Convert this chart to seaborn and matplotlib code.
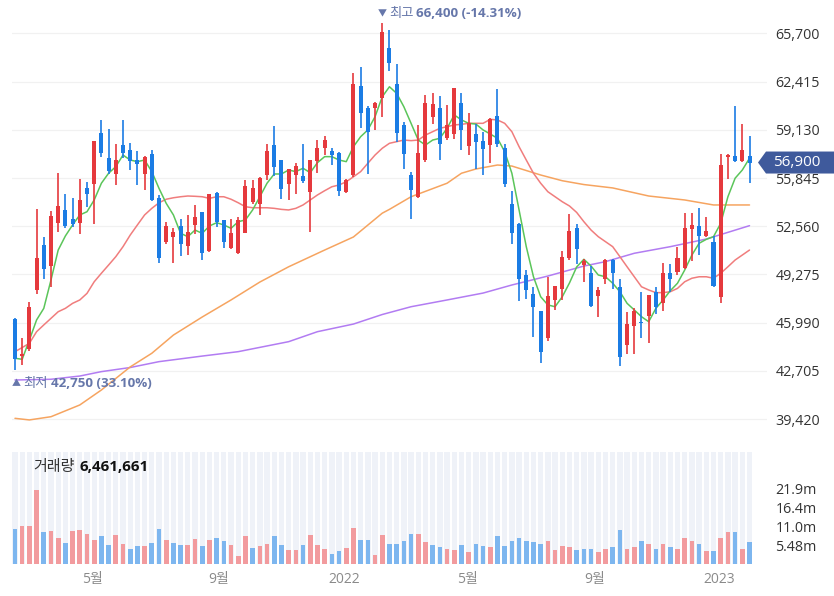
import numpy as np
import pandas as pd
import matplotlib
matplotlib.use("Agg")
import matplotlib.pyplot as plt
import matplotlib.dates as mdates
from matplotlib.patches import Polygon
from matplotlib.transforms import IdentityTransform
from matplotlib.offsetbox import TextArea, HPacker, AnnotationBbox
import seaborn as sns

# weekly candles, Feb 2021 .. Feb 2023
start_week = "2021-02-15"
n_weeks = 103

open_ = [46230, 43710, 44170, 48200, 51270, 49840, 52790, 53700, 53040, 52810,
         55170, 55470, 58940, 57240, 56100, 58080, 57730, 57050, 56150, 57460,
         54490, 51490, 51830, 52580, 51220, 52630, 53530, 50880, 54830, 52970,
         51110, 50770, 52130, 54220, 54060, 56030, 58080, 57050, 55420, 56030,
         55970, 54900, 57010, 57890, 57670, 57580, 54860, 56030, 62090, 60640,
         60640, 61320, 64700, 62230, 59440, 56030, 54560, 57100, 60000, 60640,
         58600, 58870, 60980, 58010, 58820, 58370, 58080, 60050, 57920, 54060,
         52680, 49230, 47930, 46770, 44980, 47570, 48320, 50430, 52450, 49910,
         49380, 47800, 49000, 50250, 48430, 44460, 45750, 46050, 46430, 48090,
         47300, 49380, 49450, 49750, 52400, 52560, 51880, 51490, 47750, 57280,
         57330, 57010, 57330]
high = [46300, 44980, 47390, 53740, 51830, 53580, 56190, 54790, 54490, 55780,
        55580, 58350, 59780, 59160, 58190, 59780, 58260, 57690, 57350, 57780,
        54670, 52850, 52470, 53080, 53310, 53990, 53530, 54790, 54900, 53000,
        53080, 53200, 55740, 55740, 55900, 58190, 59390, 57050, 56490, 56870,
        58190, 57050, 58420, 58690, 57920, 57600, 55810, 63030, 63410, 60730,
        61020, 66400, 65900, 63590, 59660, 56260, 59480, 61480, 61660, 61410,
        60800, 62000, 61660, 60300, 59550, 58980, 59960, 61890, 58190, 54960,
        52790, 49570, 48390, 46770, 49110, 48500, 50880, 53380, 52680, 50360,
        49840, 48430, 50360, 50360, 49000, 46730, 46960, 48090, 47860, 48430,
        50060, 50020, 51150, 53470, 53430, 53770, 53200, 51880, 57510, 57510,
        60730, 59510, 58690]
low = [42750, 43100, 44070, 47930, 49000, 48450, 52170, 52470, 52510, 52020,
       53880, 52700, 57280, 56100, 55400, 57240, 56370, 55400, 55010, 54280,
       50060, 51340, 50090, 50520, 50590, 52060, 50250, 50810, 52500, 51080,
       51040, 50700, 52100, 54060, 53310, 55690, 55970, 54450, 54330, 54740,
       55510, 52170, 56190, 57390, 56710, 54620, 54800, 55920, 59280, 56100,
       59100, 60000, 63130, 58300, 56490, 53080, 54500, 56920, 59550, 57100,
       58420, 58530, 57730, 57390, 56440, 56030, 56900, 57960, 55200, 51320,
       47480, 47640, 45020, 43280, 44750, 46890, 47570, 50290, 50020, 48770,
       47030, 46390, 48610, 48320, 43030, 43890, 43890, 44920, 44620, 46570,
       46790, 48090, 49230, 49680, 50200, 50590, 51860, 48430, 47300, 55810,
       56940, 56940, 55510]
close = [43550, 43850, 47030, 50430, 49680, 53240, 53920, 52560, 52740, 54330,
         54740, 58350, 57580, 56310, 57050, 57550, 57010, 56830, 57280, 54380,
         50430, 52560, 52170, 51340, 52170, 53200, 50770, 54740, 52850, 51490,
         52130, 53020, 55280, 55170, 55880, 57670, 56600, 55080, 56440, 56670,
         55650, 57050, 57920, 58420, 57390, 54960, 55740, 62230, 60300, 58980,
         60960, 65790, 63710, 58940, 57510, 55010, 57550, 60960, 60910, 58190,
         59440, 62000, 59100, 59620, 58300, 57850, 59890, 58140, 55420, 52100,
         48950, 48200, 47030, 44000, 47800, 48480, 50470, 52220, 51040, 50200,
         47110, 48200, 50250, 49380, 43660, 45890, 46770, 45940, 47860, 47070,
         49380, 49000, 50400, 52450, 52630, 51880, 52220, 48480, 56710, 57440,
         57010, 57730, 56900]
volume_m = [10.3, 11.0, 11.0, 21.7, 9.2, 9.5, 7.7, 6.2, 9.5, 9.8,
            8.9, 6.9, 8.1, 5.5, 8.4, 5.8, 4.4, 5.2, 5.2, 6.2,
            10.3, 6.9, 6.2, 5.5, 5.5, 7.3, 5.2, 6.9, 7.7, 6.6,
            5.5, 2.2, 8.1, 4.8, 5.2, 5.8, 8.1, 5.5, 4.0, 4.0,
            5.5, 8.5, 5.5, 4.4, 2.9, 3.7, 4.8, 10.6, 6.9, 6.9,
            2.6, 8.6, 5.9, 5.9, 6.6, 8.9, 8.9, 6.3, 5.5, 4.9,
            4.4, 4.1, 5.5, 3.4, 5.9, 5.2, 4.9, 8.2, 5.2, 6.6,
            7.7, 6.6, 6.3, 5.8, 6.6, 4.1, 5.2, 4.9, 4.1, 4.4,
            4.4, 3.4, 4.4, 4.9, 9.8, 4.4, 4.9, 6.6, 5.9, 4.4,
            5.8, 4.9, 4.4, 7.7, 6.6, 5.8, 3.7, 3.7, 7.7, 9.2,
            9.2, 4.4, 6.461661]
last_volume = 6461661

# moving averages
ma5 = [43570, 43500, 44810, 46180, 46970, 48900, 50940, 51900, 52650, 53330,
       53550, 54350, 55490, 56170, 56620, 57410, 57070, 56960, 57070, 56280,
       55140, 54120, 53330, 52080, 51850, 52300, 52080, 52580, 52800, 52650,
       52420, 52870, 52990, 53670, 54570, 55490, 56120, 56120, 56390, 56280,
       56510, 56210, 56890, 57300, 57300, 57070, 56960, 57980, 58660, 59120,
       60020, 61380, 62060, 61610, 60700, 59570, 58430, 58090, 58430, 58550,
       59230, 60140, 59800, 59570, 59520, 59120, 58840, 58550, 57640, 56170,
       53670, 51170, 49120, 47760, 47200, 47080, 47760, 48700, 49790, 50310,
       49850, 49240, 49120, 48680, 48100, 47310, 46860, 46400, 46060, 46970,
       47540, 48170, 48680, 49580, 50600, 51400, 51670, 51850, 52760, 54570,
       55830, 56390, 57190]
ma20 = [44020, 44300, 44590, 45380, 45840, 46290, 46740, 46970, 47310, 47540,
        47990, 48780, 49360, 49920, 50490, 51170, 51960, 52650, 53330, 53780,
        54160, 54400, 54500, 54570, 54620, 54600, 54570, 54460, 54570, 54570,
        54400, 54160, 53890, 53820, 53820, 53820, 53780, 53710, 53670, 53780,
        54010, 54350, 54690, 54980, 55250, 55370, 55590, 55930, 56280, 56850,
        57410, 57870, 58210, 58320, 58430, 58390, 58430, 58770, 59000, 59230,
        59340, 59460, 59500, 59570, 59570, 59570, 59840, 59800, 59570, 59000,
        57980, 57070, 56170, 55490, 54910, 54570, 54230, 53940, 53500, 52870,
        52300, 51850, 51510, 51170, 50490, 49800, 49120, 48440, 48220, 48040,
        48040, 48100, 48330, 48780, 49020, 49120, 49120, 49020, 49360, 49800,
        50260, 50600, 50940]
ma60_week = [0, 2, 5, 9, 12, 16, 19, 22, 26, 30, 34, 38, 43, 47, 51, 52, 55,
             60, 62, 64, 67, 69, 73, 76, 79, 83, 88, 93, 97, 102]
ma60 = [39480, 39370, 39590, 40390, 41410, 42980, 43910, 45150, 46380, 47540,
        48760, 49800, 50940, 51830, 53450, 53710, 54570, 55490, 56170, 56460,
        56730, 56660, 56050, 55660, 55400, 55170, 54620, 54350, 54010, 54010]
ma120_week = [0, 5, 9, 12, 16, 20, 26, 31, 38, 42, 47, 51, 55, 60, 65, 69,
              74, 79, 82, 86, 91, 96, 102]
ma120 = [42090, 42140, 42360, 42660, 42940, 43340, 43720, 44020, 44700, 45380,
         45900, 46550, 47080, 47540, 48010, 48560, 49170, 49850, 50150, 50720,
         51170, 51690, 52600]

price_ticks = [39420, 42705, 45990, 49275, 52560, 55845, 59130, 62415, 65700]
vol_ticks = [5.48, 11.0, 16.4, 21.9]
vol_tick_labels = ["5.48m", "11.0m", "16.4m", "21.9m"]
month_ticks = ["2021-05-01", "2021-09-01", "2022-01-01",
               "2022-05-01", "2022-09-01", "2023-01-01"]
month_labels = ["5월", "9월", "2022", "5월", "9월", "2023"]

RED, BLUE = "#e5393d", "#1b7ce4"
VRED, VBLUE = "#f29b9e", "#7db6ef"
MA_COLORS = {"ma5": "#5bc55a", "ma20": "#f07d7d", "ma60": "#f6a460", "ma120": "#b27cf2"}
LABEL_BLUE = "#6677aa"

sns.set_theme(style="white")
plt.rcParams["font.family"] = ["Open Sans", "Noto Sans CJK KR", "DejaVu Sans"]

df = pd.DataFrame({"date": pd.date_range(start_week, periods=n_weeks, freq="7D"),
                   "open": open_, "high": high, "low": low, "close": close,
                   "volume": np.array(volume_m) * 1e6})
df["x"] = mdates.date2num(df["date"])
df["up"] = df["close"] >= df["open"]
df["vol_up"] = df["close"] >= df["close"].shift(1).fillna(df["open"])

W, H = 834, 596
fig = plt.figure(figsize=(W / 100, H / 100), dpi=100)
ax = fig.add_axes([12 / W, 156 / H, 755 / W, 440 / H])
axv = fig.add_axes([12 / W, 32 / H, 755 / W, 112 / H])

x0 = df["x"].iloc[0]
xlim = (x0 - 2.9, x0 + 731)

# --- price panel ---
cols = np.where(df["up"], RED, BLUE)
ax.vlines(df["x"], df["low"], df["high"], colors=cols, linewidth=1.2, zorder=3)
body = np.maximum((df["close"] - df["open"]).abs(), 120)
ax.bar(df["x"], body, bottom=np.minimum(df["open"], df["close"]), width=3.9,
       color=cols, linewidth=0, zorder=4)

ma_frames = [
    ("ma120", df["x"].iloc[ma120_week].values, ma120),
    ("ma60", df["x"].iloc[ma60_week].values, ma60),
    ("ma20", df["x"].values, ma20),
    ("ma5", df["x"].values, ma5),
]
for name, xs, ys in ma_frames:
    sns.lineplot(x=xs, y=ys, ax=ax, color=MA_COLORS[name], linewidth=1.1,
                 sort=False, estimator=None, zorder=2)

ax.set_xlim(*xlim)
ax.set_ylim(38004, 67968)
ax.set_yticks(price_ticks)
ax.set_yticklabels([f"{v:,}" for v in price_ticks])
ax.yaxis.tick_right()
ax.tick_params(axis="y", length=0, pad=6, labelsize=10.3, labelcolor="#333333")
ax.set_xticks([])
ax.grid(axis="y", color="#f1f1f1", linewidth=0.9)
ax.grid(axis="x", visible=False)
for s in ax.spines.values():
    s.set_visible(False)

imax = int(np.argmax(df["high"]))
imin = int(np.argmin(df["low"]))
last = df["close"].iloc[-1]


def marker_label(arrow, word, value, pct):
    parts = [
        TextArea(arrow, textprops=dict(fontsize=6.5, color=LABEL_BLUE)),
        TextArea(word, textprops=dict(fontsize=9.6, color=LABEL_BLUE)),
        TextArea(f"{value:,} ({pct:.2f}%)",
                 textprops=dict(fontsize=9.6, color=LABEL_BLUE, fontweight="bold")),
    ]
    return HPacker(children=parts, align="center", pad=0, sep=2)


hi_val = df["high"].iloc[imax]
lo_val = df["low"].iloc[imin]
ax.add_artist(AnnotationBbox(
    marker_label("▼", "최고", hi_val, (last / hi_val - 1) * 100),
    (df["x"].iloc[imax], hi_val), xybox=(-3.5, 6.5), boxcoords="offset points",
    box_alignment=(0, 0.5), frameon=False, pad=0, annotation_clip=False))
ax.add_artist(AnnotationBbox(
    marker_label("▲", "최저", lo_val, (last / lo_val - 1) * 100),
    (df["x"].iloc[imin], lo_val), xybox=(-2.5, -9.3), boxcoords="offset points",
    box_alignment=(0, 0.5), frameon=False, pad=0, annotation_clip=False))

# --- volume panel ---
vtop = 32.7e6
axv.bar(df["x"], vtop, width=5.2, color="#eff2f8", linewidth=0, zorder=1)
axv.bar(df["x"], df["volume"], width=4.5, linewidth=0, zorder=2,
        color=np.where(df["vol_up"], VRED, VBLUE))
axv.set_xlim(*xlim)
axv.set_ylim(0, vtop)
axv.set_yticks([v * 1e6 for v in vol_ticks])
axv.set_yticklabels(vol_tick_labels)
axv.yaxis.tick_right()
axv.tick_params(axis="y", length=0, pad=6, labelsize=10.3, labelcolor="#333333")
axv.set_xticks(mdates.date2num(pd.to_datetime(month_ticks)))
axv.set_xticklabels(month_labels)
axv.tick_params(axis="x", length=0, pad=6, labelsize=10, labelcolor="#8a8a8a")
axv.grid(False)
for s in axv.spines.values():
    s.set_visible(False)

cap = HPacker(children=[
    TextArea("거래량", textprops=dict(fontsize=10.8, color="#333333")),
    TextArea(f"{last_volume:,}", textprops=dict(fontsize=10.8, color="#111111",
                                               fontweight="bold")),
], align="center", pad=0, sep=4)
axv.add_artist(AnnotationBbox(cap, (21 / 755, (564 - 467) / 112),
                              xycoords="axes fraction", box_alignment=(0, 0.5),
                              frameon=False, pad=0))

# current price tag on the right axis
px, py = ax.transData.transform((xlim[1], last))
tag = Polygon([(px - 9, py), (px - 1, py + 11), (W, py + 11), (W, py - 11),
               (px - 1, py - 11)], closed=True, facecolor="#3f5a9c",
              edgecolor="none", transform=IdentityTransform(), zorder=5)
fig.add_artist(tag)
fig.text(px + 6, py, f"{last:,}", transform=IdentityTransform(), color="white",
         fontsize=11, va="center", ha="left", zorder=6)

fig.savefig("out.png", dpi=100)
